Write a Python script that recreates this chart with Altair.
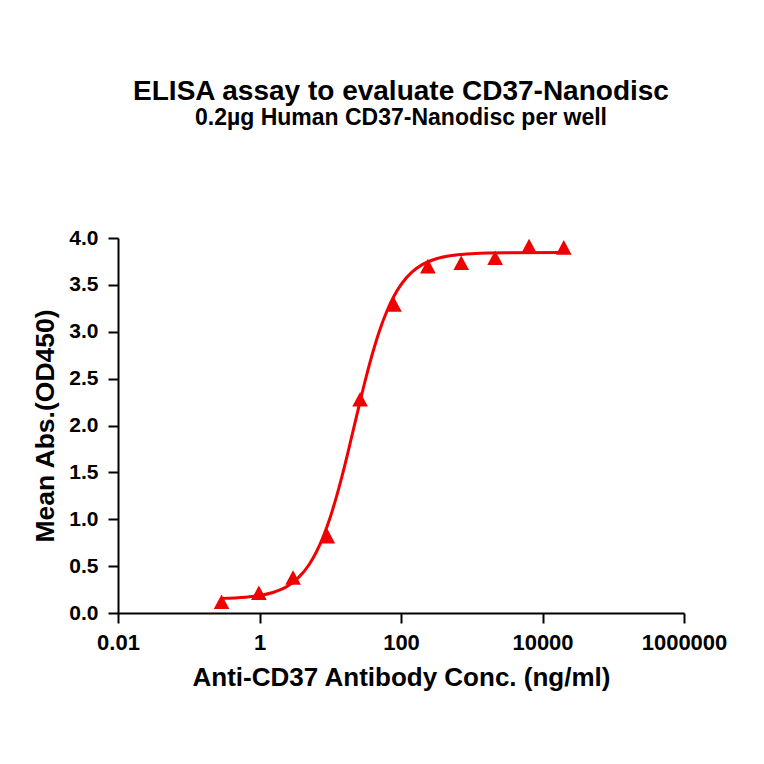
import altair as alt
import pandas as pd

# Measured points (concentration in ng/ml, mean OD450)
conc = [0.291, 0.98, 2.98, 9.1, 26.4, 79.6, 240, 710, 2140, 6460, 20000]
od = [0.12, 0.217, 0.379, 0.82, 2.28, 3.29, 3.70, 3.735, 3.79, 3.915, 3.90]

# Fitted curve
curve_conc = [0.288, 0.631, 1.0, 1.585, 2.512, 3.548, 5.012, 6.31, 7.943, 10.0,
              12.59, 15.85, 19.95, 25.12, 31.62, 39.81, 50.12, 63.1, 79.43, 100,
              141.3, 199.5, 316.2, 562.3, 1000, 3162, 20000]
curve_od = [0.156, 0.168, 0.186, 0.221, 0.288, 0.377, 0.515, 0.645, 0.813, 1.022,
            1.273, 1.559, 1.870, 2.188, 2.496, 2.776, 3.019, 3.219, 3.379, 3.503,
            3.633, 3.716, 3.779, 3.817, 3.833, 3.843, 3.845]

x_ticks = [0.01, 1, 100, 10000, 1000000]
y_ticks = [0, 0.5, 1.0, 1.5, 2.0, 2.5, 3.0, 3.5, 4.0]

pts = pd.DataFrame({"conc": conc, "od": od})
fit = pd.DataFrame({"conc": curve_conc, "od": curve_od})

RED = "#f00000"
FONT = "Liberation Sans"

xscale = alt.Scale(type="log", domain=[0.01, 1000000], nice=False)
yscale = alt.Scale(domain=[0, 4], nice=False, zero=False)

xaxis = alt.Axis(
    title="Anti-CD37 Antibody Conc. (ng/ml)",
    values=x_ticks,
    labelExpr="datum.value >= 1 ? format(datum.value, 'd') : format(datum.value, '.2f')",
    grid=False, domainColor="black", domainWidth=2, tickColor="black", tickWidth=2,
    tickSize=10, labelPadding=9, labelFontSize=22, labelFont=FONT, labelFontWeight="bold",
    labelColor="black", titleFontSize=26, titleFont=FONT, titleFontWeight="bold",
    titleColor="black", titlePadding=11, labelFlush=False, labelOverlap=False,
)
yaxis = alt.Axis(
    title="Mean Abs.(OD450)",
    values=y_ticks, format=".1f",
    grid=False, domainColor="black", domainWidth=2, tickColor="black", tickWidth=2,
    tickSize=10, labelPadding=10, labelFontSize=21, labelFont=FONT, labelFontWeight="bold",
    labelColor="black", titleFontSize=26.5, titleFont=FONT, titleFontWeight="bold",
    titleColor="black", titlePadding=9, labelFlush=False, labelOverlap=False,
)

line = alt.Chart(fit).mark_line(color=RED, strokeWidth=3, interpolate="monotone").encode(
    x=alt.X("conc:Q", scale=xscale, axis=xaxis),
    y=alt.Y("od:Q", scale=yscale, axis=yaxis),
)
points = alt.Chart(pts).mark_point(
    shape="M0,-0.93L1,0.93L-1,0.93Z", filled=True, color=RED, opacity=1, size=245
).encode(
    x=alt.X("conc:Q", scale=xscale),
    y=alt.Y("od:Q", scale=yscale),
)

chart = alt.layer(line, points).properties(
    width=566, height=375,
    background="white",
    padding={"left": 110, "top": 230, "right": 72, "bottom": 135},
    autosize=alt.AutoSizeParams(type="none"),
    title=alt.TitleParams(
        text="ELISA assay to evaluate CD37-Nanodisc",
        subtitle="0.2µg Human CD37-Nanodisc per well",
        fontSize=28, subtitleFontSize=23, font=FONT, subtitleFont=FONT,
        fontWeight="bold", subtitleFontWeight="bold", color="black",
        subtitleColor="black", anchor="middle", offset=97, subtitlePadding=1,
    ),
).configure_view(strokeWidth=0, stroke="transparent")

chart.save("out.html", embed_options={"renderer": "svg", "actions": False})
